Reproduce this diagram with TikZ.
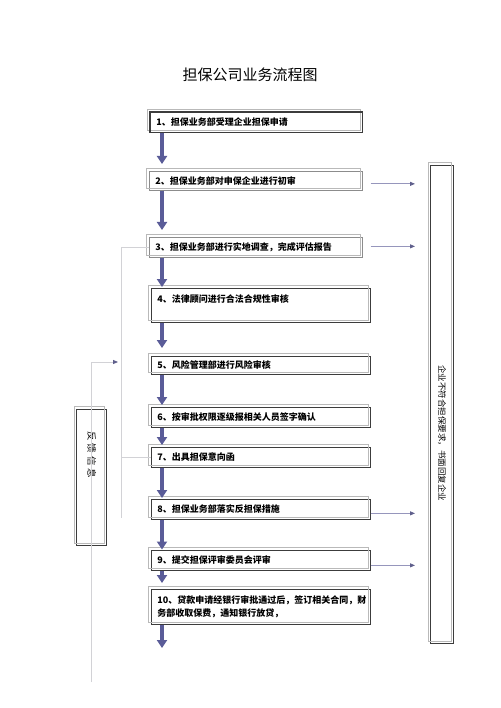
\documentclass[tikz,border=0pt]{standalone}
\usepackage{fontspec}
\setmainfont{Noto Sans CJK SC}
\usetikzlibrary{arrows.meta,calc}
\definecolor{flowc}{RGB}{90,92,152}
\definecolor{linec}{RGB}{210,210,214}
\definecolor{rarc}{RGB}{150,150,188}
\definecolor{rhead}{RGB}{95,95,140}
\definecolor{boxc}{RGB}{60,60,60}
\definecolor{boxl}{RGB}{140,140,140}
\definecolor{shc}{RGB}{185,185,185}
\begin{document}
\begin{tikzpicture}[x=1pt,y=-1pt,
  stepbox/.style={draw=boxc, line width=0.7pt, anchor=north west, inner xsep=6pt, inner ysep=0pt,
    align=left, font=\fontsize{9}{13}\selectfont\bfseries, text width=#1},
  flow/.style={draw=flowc, line width=4.5pt, -{Triangle[width=10pt,length=8pt]}},
  rarrow/.style={draw=rarc, line width=0.9pt, -{Triangle[width=4pt,length=5pt,color=rhead]}},
  thin/.style={draw=linec, line width=0.8pt},
  shadowbox/.style={draw=shc, line width=0.7pt},
  sidebox/.style={draw=boxc, line width=0.7pt, inner sep=0pt},
]
\useasboundingbox (0,0) rectangle (500,708);
\fill[white] (0,0) rectangle (500,708);

\node[font=\fontsize{15}{18}\selectfont] (title) at (250,75) {担保公司业务流程图};

% left feedback lines (behind)
\coordinate (lx) at (121,0);
\coordinate (lbot) at (121,518);
\coordinate (fa) at (91,362);
\coordinate (fh) at (118,362);
\coordinate (fe) at (91,682);

% main boxes
\node[stepbox=200, minimum height=20pt] (b1) at (150,112) {1、担保业务部受理企业担保申请};
\node[stepbox=201, minimum height=19pt, draw=boxl] (b2) at (149,171) {2、担保业务部对申保企业进行初审};
\node[stepbox=201, minimum height=20pt, draw=boxl] (b3) at (149,237) {3、担保业务部进行实地调查，完成评估报告};
\node[stepbox=207, minimum height=34pt] (b4) at (151,288) {4、法律顾问进行合法合规性审核\\\mbox{}};
\node[stepbox=207, minimum height=18pt] (b5) at (151,356) {5、风险管理部进行风险审核};
\node[stepbox=207, minimum height=20pt] (b6) at (151,407) {6、按审批权限逐级报相关人员签字确认};
\node[stepbox=207, minimum height=20pt] (b7) at (151,447) {7、出具担保意向函};
\node[stepbox=207, minimum height=20pt] (b8) at (151,499) {8、担保业务部落实反担保措施};
\node[stepbox=207, minimum height=20pt] (b9) at (151,550) {9、提交担保评审委员会评审};
\node[stepbox=207, minimum height=35pt] (b10) at (151,589) {10、贷款申请经银行审批通过后，签订相关合同，财\\务部收取保费，通知银行放贷，};

% side boxes
\node[sidebox, minimum width=30pt, minimum height=136pt] (fb) at (91.7,477) {};
\node[rotate=-90, font=\fontsize{9.5}{11}\selectfont] (fbt) at (91.7,455) {反\hspace{3pt}馈\hspace{3pt}信\hspace{3pt}息};
\node[sidebox, minimum width=22.6pt, minimum height=478pt] (rb) at (442,404) {};
\node[rotate=-90, font=\fontsize{8.5}{10}\selectfont] (rbt) at (442,433) {企业不符合担保要求，书面回复企业};

% shadows
\foreach \n in {b1,b2,b3,b4,b5,b6,b7,b8,b9,b10,fb,rb}
  \draw[shadowbox] ([shift={(-2.3,-2.3)}]\n.north west) rectangle ([shift={(-2.3,-2.3)}]\n.south east);
\draw[boxc, line width=1.8pt] (b1.south west) -- (b1.north west) -- (b1.north east);

% feedback lines
\draw[thin] (b3.west -| lx) -- (lbot);
\draw[thin] (b3.west -| lx) -- (b3.west);
\draw[thin] (b7.west -| lx) -- (b7.west);
\draw[thin] (fe) -- (fa);
\draw[thin, -{Triangle[width=4pt,length=5pt,color=rhead]}] (fa) -- (fh);

% flow arrows
\coordinate (ax) at (162,0);
\coordinate (endc) at (162,648);
\draw[flow, shorten >=7pt] (b1.south -| ax) -- (b2.north -| ax);
\draw[flow, shorten >=7pt] (b2.south -| ax) -- (b3.north -| ax);
\draw[flow, shorten >=1pt] (b3.south -| ax) -- (b4.north -| ax);
\draw[flow, shorten >=8pt] (b4.south -| ax) -- (b5.north -| ax);
\draw[flow, shorten >=2pt] (b5.south -| ax) -- (b6.north -| ax);
\draw[flow, shorten >=2pt] (b6.south -| ax) -- (b7.north -| ax);
\draw[flow, shorten >=1pt] (b7.south -| ax) -- (b8.north -| ax);
\draw[flow, shorten >=0.5pt] (b8.south -| ax) -- (b9.north -| ax);
\draw[flow, shorten >=6pt] (b9.south -| ax) -- (b10.north -| ax);
\draw[flow] (b10.south -| ax) -- (endc);

% right arrows
\coordinate (rx) at (415,0);
\draw[rarrow] ([xshift=8pt,yshift=-3pt]b2.east) -- ([yshift=-3pt]b2.east -| rx);
\draw[rarrow] ([xshift=8pt,yshift=1pt]b3.east) -- ([yshift=1pt]b3.east -| rx);
\draw[rarrow] ([yshift=-4pt]b8.east) -- ([yshift=-4pt]b8.east -| rx);
\draw[rarrow] ([yshift=-5pt]b9.east) -- ([yshift=-5pt]b9.east -| rx);
\end{tikzpicture}
\end{document}
